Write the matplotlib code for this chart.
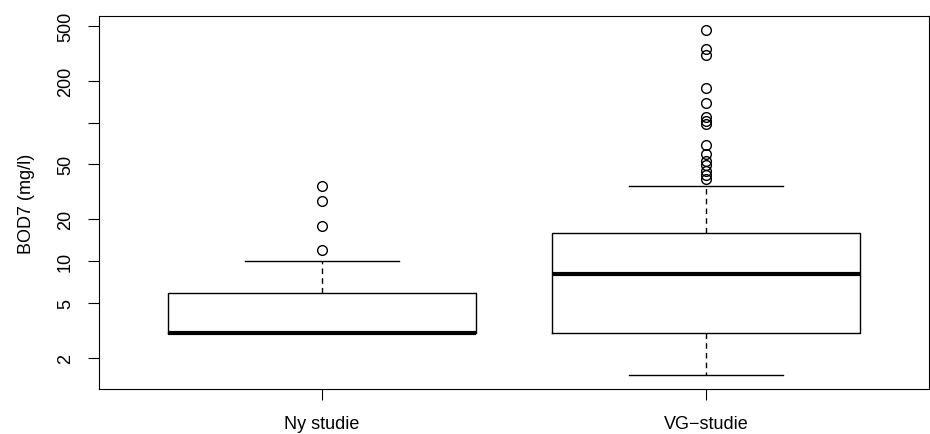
import numpy as np
import matplotlib
matplotlib.use("Agg")
from matplotlib import pyplot as plt

plt.rcParams['font.family'] = ['Liberation Sans', 'DejaVu Sans']

groups = ["Ny studie", "VG\u2212studie"]
whislo = [3.0, 1.5]
q1 = [3.0, 3.0]
med = [3.0, 8.0]
q3 = [5.9, 16.0]
whishi = [10.0, 35.0]
fliers_ny = [12, 18, 27, 35]
fliers_vg = [39, 41.5, 45, 49, 53, 59, 69, 98, 103, 110, 139, 179, 308, 341, 467]

yticks = [2, 5, 10, 20, 50, 100, 200, 500]
ytick_labels = ["2", "5", "10", "20", "50", "", "200", "500"]

stats = []
for i, fl in enumerate([fliers_ny, fliers_vg]):
    stats.append(dict(label=groups[i], whislo=whislo[i], q1=q1[i], med=med[i],
                      q3=q3[i], whishi=whishi[i], fliers=fl))

fig = plt.figure(figsize=(9.3, 4.35), dpi=100)
ax = fig.add_axes([99/930, 1-390/435, 830/930, 373/435])

ax.bxp(stats, positions=[1, 2], widths=0.8, showcaps=True,
       boxprops=dict(color='black', linewidth=1),
       medianprops=dict(color='black', linewidth=3, solid_capstyle='butt'),
       whiskerprops=dict(color='black', linewidth=1, linestyle=(0, (4, 3))),
       capprops=dict(color='black', linewidth=1),
       flierprops=dict(marker='o', markerfacecolor='none', markeredgecolor='black',
                       markersize=7, markeredgewidth=1))

ax.set_yscale('log')
allv = np.log10(np.concatenate([whislo, fliers_ny, fliers_vg]))
lo, hi = allv.min(), allv.max()
pad = 0.04 * (hi - lo)
ax.set_ylim(10**(lo - pad), 10**(hi + pad))
ax.set_xlim(0.42, 2.58)

ax.set_yticks(yticks)
ax.set_yticklabels(ytick_labels, rotation=90, va='center', fontsize=13)
ax.yaxis.set_minor_locator(matplotlib.ticker.NullLocator())
ax.set_xticks([1, 2])
ax.set_xticklabels(groups, fontsize=13)
ax.tick_params(axis='both', direction='out', length=8, width=0.8)
ax.tick_params(axis='x', pad=11)
ax.tick_params(axis='y', pad=10)
ax.set_ylabel("BOD7 (mg/l)", fontsize=13, labelpad=16)
for s in ax.spines.values():
    s.set_linewidth(0.8)

fig.savefig("out.png", dpi=100)
